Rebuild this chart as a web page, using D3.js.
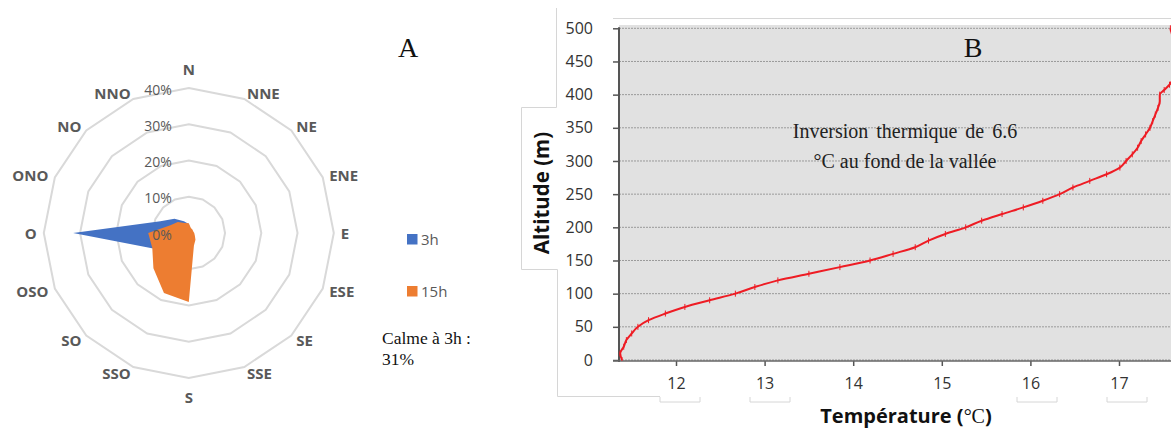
<!DOCTYPE html>
<html>
<head>
<meta charset="utf-8">
<script src="https://cdn.jsdelivr.net/npm/d3@7"></script>
<style>
  body { margin: 0; background: #fff; }
  svg { display: block; }
</style>
</head>
<body>
<div id="container"></div>
<script>
// PANEL A - wind rose (% of observations per direction)
const directions = ['N', 'NNE', 'NE', 'ENE', 'E', 'ESE', 'SE', 'SSE', 'S', 'SSO', 'SO', 'OSO', 'O', 'ONO', 'NO', 'NNO']
const share3h = [2.5, 1, 1, 0.5, 0.5, 0.5, 0.5, 1, 2, 4, 7, 11, 31.9, 8.5, 5.6, 3.5]
const share15h = [2.7, 1.5, 1.4, 1.3, 1.5, 1.8, 2.6, 3.7, 19, 17.9, 13.8, 10.9, 11.2, 5.5, 4.3, 3]
const radarTicks = [0, 10, 20, 30, 40]
const seriesNames = ['3h', '15h']

// PANEL B - temperature profile
const altitude = [0, 10, 20, 30, 40, 50, 60, 70, 80, 90, 100, 110, 120, 130, 140, 150, 160, 170, 180, 190,
  200, 210, 220, 230, 240, 250, 260, 270, 280, 290, 300, 310, 320, 330, 340, 350, 360, 370, 380, 390,
  400, 407, 415, 430, 450, 470, 490, 500]
const temperature = [11.39, 11.37, 11.41, 11.44, 11.50, 11.57, 11.69, 11.88, 12.10, 12.38, 12.67, 12.89, 13.15, 13.50, 13.85, 14.19, 14.45, 14.70, 14.85, 15.04,
  15.27, 15.45, 15.68, 15.92, 16.14, 16.33, 16.48, 16.67, 16.86, 17.01, 17.08, 17.15, 17.21, 17.25, 17.30, 17.35, 17.38, 17.41, 17.44, 17.46,
  17.46, 17.51, 17.57, 17.63, 17.66, 17.64, 17.60, 17.58]
const altTicks = [0, 50, 100, 150, 200, 250, 300, 350, 400, 450, 500]
const tempTicks = [12, 13, 14, 15, 16, 17]

const w = 1171
const h = 430
const colors = ['#4472c4', '#ed7d31']
const labelGray = '#595959'

const svg = d3.select('#container')
  .append('svg')
  .attr('width', w)
  .attr('height', h)

//RADAR
const cx = 188.8
const cy = 233
const r = d3.scaleLinear().domain([0, 40]).range([0, 145])
const angle = d3.scalePoint().domain(directions).range([0, 2 * Math.PI * 15 / 16])

const radar = svg.append('g')
  .attr('transform', `translate(${cx},${cy})`)

const ring = d3.lineRadial()
  .curve(d3.curveLinearClosed)

radar.selectAll('.ring')
  .data(radarTicks.filter(t => t > 0))
  .enter()
  .append('path')
  .attr('class', 'ring')
  .attr('d', t => ring(directions.map(d => [angle(d), r(t)])))
  .attr('fill', 'none')
  .attr('stroke', '#d9d9d9')
  .attr('stroke-width', 2)

const series = [share3h, share15h]
radar.selectAll('.area')
  .data(series)
  .enter()
  .append('path')
  .attr('class', 'area')
  .attr('d', vals => ring(directions.map((d, i) => [angle(d), r(vals[i])])))
  .attr('fill', (d, i) => colors[i])

radar.selectAll('.tickLabel')
  .data(radarTicks)
  .enter()
  .append('text')
  .attr('x', -17)
  .attr('y', t => -r(t) + 1)
  .attr('text-anchor', 'end')
  .attr('dominant-baseline', 'central')
  .attr('font-family', '"Open Sans", sans-serif')
  .attr('font-size', 14)
  .attr('fill', labelGray)
  .text(t => t + '%')

radar.selectAll('.dirLabel')
  .data(directions)
  .enter()
  .append('text')
  .attr('x', d => Math.sin(angle(d)) * 152)
  .attr('y', d => {
    const c = Math.cos(angle(d))
    const s = Math.sin(angle(d))
    const base = -c * 152
    if (Math.abs(s) < 0.01) return base + (c > 0 ? -12 : 12)
    return base
  })
  .attr('text-anchor', d => {
    const s = Math.sin(angle(d))
    if (Math.abs(s) < 0.01) return 'middle'
    return s > 0 ? 'start' : 'end'
  })
  .attr('dominant-baseline', 'central')
  .attr('font-family', '"Open Sans", sans-serif')
  .attr('font-weight', 'bold')
  .attr('font-size', 15)
  .attr('fill', labelGray)
  .text(d => d)

//LEGEND
const legend = svg.selectAll('.legend')
  .data(seriesNames)
  .enter()
  .append('g')
  .attr('class', 'legend')
  .attr('transform', (d, i) => `translate(407,${239 + i * 52})`)

legend.append('rect')
  .attr('x', 0)
  .attr('y', -5)
  .attr('width', 10.5)
  .attr('height', 10.5)
  .attr('fill', (d, i) => colors[i])

legend.append('text')
  .attr('x', 14)
  .attr('y', 0)
  .attr('dominant-baseline', 'central')
  .attr('font-family', '"Open Sans", sans-serif')
  .attr('font-size', 15)
  .attr('fill', labelGray)
  .text(d => d)

const serif = '"Liberation Serif", "Times New Roman", serif'
svg.append('text')
  .attr('x', 382)
  .attr('y', 344)
  .attr('font-family', serif)
  .attr('font-size', 17.5)
  .attr('fill', '#111')
  .text('Calme à 3h :')
svg.append('text')
  .attr('x', 382)
  .attr('y', 365)
  .attr('font-family', serif)
  .attr('font-size', 17.5)
  .attr('fill', '#111')
  .text('31%')

svg.append('text')
  .attr('x', 408)
  .attr('y', 57)
  .attr('text-anchor', 'middle')
  .attr('font-family', serif)
  .attr('font-size', 28)
  .attr('fill', '#111')
  .text('A')

//PROFILE CHART
const plot = { left: 619, right: 1171, top: 25, bottom: 361 }
const x = d3.scaleLinear().domain([12, 17]).range([676, 1119])
const y = d3.scaleLinear().domain([0, 500]).range([360, 28.3])

// faint frame remains from the pasted image
const frame = svg.append('g')
  .attr('stroke', '#d6d6d6')
  .attr('stroke-width', 1)
  .attr('fill', 'none')
frame.append('path').attr('d', 'M613,18.5H1171')
frame.append('path').attr('d', 'M556.5,8V107.5H521.5V269.5H557.5V396.5H660')
frame.append('path').attr('d', 'M660,397V402H700V397M750,397V402H790V397')
frame.append('path').attr('d', 'M1017,397V402H1057V397M1107,397V402H1147V397')

svg.append('rect')
  .attr('x', plot.left)
  .attr('y', plot.top)
  .attr('width', plot.right - plot.left)
  .attr('height', plot.bottom - plot.top)
  .attr('fill', '#e1e1e1')

svg.append('g')
  .selectAll('line')
  .data(altTicks)
  .enter()
  .append('line')
  .attr('x1', plot.left)
  .attr('x2', plot.right)
  .attr('y1', d => y(d))
  .attr('y2', d => y(d))
  .attr('stroke', '#9a9a9a')
  .attr('stroke-width', 1)
  .attr('stroke-dasharray', '2,1')

const yAxis = svg.append('g')
  .attr('transform', `translate(${plot.left},0)`)
  .call(d3.axisLeft(y).tickValues(altTicks).tickSize(6).tickPadding(20))
yAxis.select('.domain').remove()
yAxis.selectAll('line').attr('stroke', '#555').attr('stroke-width', 1.5)
yAxis.selectAll('text')
  .attr('font-family', '"Open Sans", sans-serif')
  .attr('font-size', 16)
  .attr('fill', '#333')

const xAxis = svg.append('g')
  .attr('transform', `translate(0,${plot.bottom})`)
  .call(d3.axisBottom(x).tickValues(tempTicks).tickFormat(d3.format('d')).tickSize(5).tickPadding(12))
xAxis.select('.domain').remove()
xAxis.selectAll('line').attr('stroke', '#555').attr('stroke-width', 1.5)
xAxis.selectAll('text')
  .attr('font-family', '"Open Sans", sans-serif')
  .attr('font-size', 16)
  .attr('fill', '#333')

svg.append('line')
  .attr('x1', plot.left).attr('x2', plot.left)
  .attr('y1', y(500) - 1).attr('y2', plot.bottom + 1)
  .attr('stroke', '#555').attr('stroke-width', 2)
svg.append('line')
  .attr('x1', plot.left - 6).attr('x2', plot.right)
  .attr('y1', plot.bottom).attr('y2', plot.bottom)
  .attr('stroke', '#666').attr('stroke-width', 1.5)

svg.append('clipPath')
  .attr('id', 'clip')
  .append('rect')
  .attr('x', plot.left)
  .attr('y', plot.top)
  .attr('width', plot.right - plot.left)
  .attr('height', plot.bottom - plot.top)

const profile = altitude.map((a, i) => ({ alt: a, temp: temperature[i] }))
const curve = svg.append('g').attr('clip-path', 'url(#clip)')

curve.append('path')
  .datum(profile)
  .attr('d', d3.line().x(d => x(d.temp)).y(d => y(d.alt)).curve(d3.curveMonotoneY))
  .attr('fill', 'none')
  .attr('stroke', '#ee1c24')
  .attr('stroke-width', 2)

curve.selectAll('.mark')
  .data(profile)
  .enter()
  .append('line')
  .attr('class', 'mark')
  .attr('x1', d => x(d.temp))
  .attr('x2', d => x(d.temp))
  .attr('y1', d => y(d.alt) - 3)
  .attr('y2', d => y(d.alt) + 3)
  .attr('stroke', '#ee1c24')
  .attr('stroke-width', 1)

svg.append('text')
  .attr('x', 905)
  .attr('y', 138)
  .attr('text-anchor', 'middle')
  .attr('font-family', serif)
  .attr('font-size', 20)
  .attr('word-spacing', 3)
  .attr('fill', '#222')
  .text('Inversion thermique de 6.6')
svg.append('text')
  .attr('x', 905)
  .attr('y', 168)
  .attr('text-anchor', 'middle')
  .attr('font-family', serif)
  .attr('font-size', 20)
  .attr('fill', '#222')
  .text('°C au fond de la vallée')

svg.append('text')
  .attr('x', 973)
  .attr('y', 57)
  .attr('text-anchor', 'middle')
  .attr('font-family', serif)
  .attr('font-size', 28)
  .attr('fill', '#111')
  .text('B')

svg.append('text')
  .attr('transform', 'translate(549,193) rotate(-90)')
  .attr('text-anchor', 'middle')
  .attr('font-family', '"Open Sans", sans-serif')
  .attr('font-weight', 'bold')
  .attr('font-size', 20.5)
  .attr('fill', '#111')
  .text('Altitude (m)')

const xTitle = svg.append('text')
  .attr('x', 906)
  .attr('y', 423)
  .attr('text-anchor', 'middle')
  .attr('font-family', '"Open Sans", sans-serif')
  .attr('font-weight', 'bold')
  .attr('font-size', 20)
  .attr('fill', '#111')
xTitle.append('tspan').text('Température (')
xTitle.append('tspan').attr('font-family', serif).attr('font-weight', 'normal').text('°C')
xTitle.append('tspan').text(')')
</script>
</body>
</html>
